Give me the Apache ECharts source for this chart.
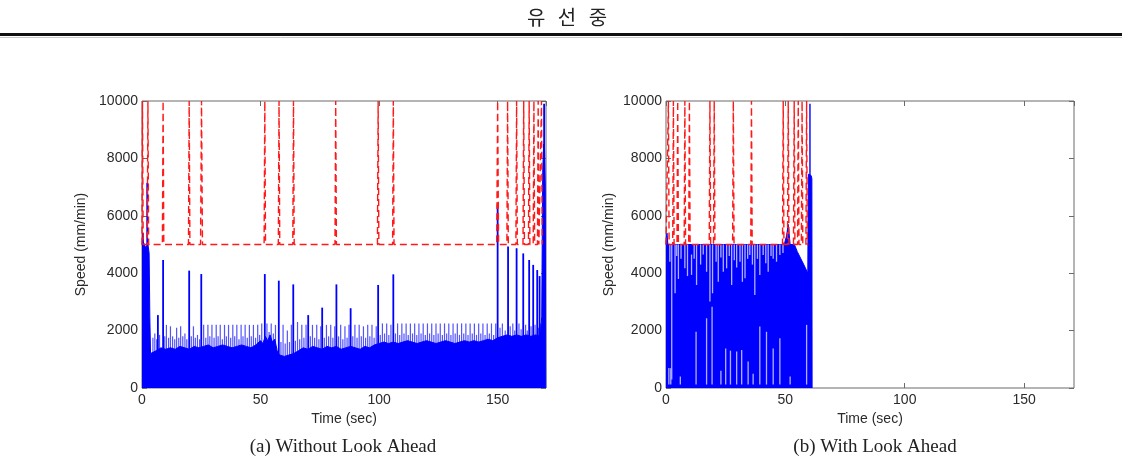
<!DOCTYPE html>
<html><head><meta charset="utf-8">
<script src="https://cdn.jsdelivr.net/npm/echarts@6/dist/echarts.min.js"></script>
<style>html,body{margin:0;padding:0;background:#fff}#c{width:1122px;height:469px}</style>
</head><body><div id="c"></div>
<script>
// ---------- DATA ----------
const pageTitle = '유 선 중';
const captionA = '(a) Without Look Ahead';
const captionB = '(b) With Look Ahead';
const xName = 'Time (sec)';
const yName = 'Speed (mm/min)';

// (a) solid speed envelope [time, speed]
const baseA = [[0,5000],[0.5,5100],[1.5,4900],[2.5,5000],[3.0,4700],[3.3,2500],[3.6,1200],[4,1250],[6,1300],[8,1400],[10,1350],[12,1400],[14,1350],[16,1450],[18,1400],[20,1350],[22,1450],[24,1400],[26,1450],[28,1500],[30,1400],[32,1450],[34,1500],[36,1450],[38,1400],[40,1450],[42,1500],[44,1450],[46,1400],[48,1500],[50,1650],[51,1550],[52,1800],[53,1650],[54,1850],[55,1600],[56,1700],[57,1300],[58,1150],[60,1100],[62,1150],[64,1200],[66,1300],[68,1400],[70,1350],[72,1450],[74,1400],[76,1350],[78,1450],[80,1400],[82,1450],[84,1350],[86,1400],[88,1450],[90,1400],[92,1350],[94,1450],[96,1400],[98,1500],[100,1550],[102,1600],[104,1550],[106,1600],[108,1550],[110,1600],[112,1650],[114,1600],[116,1550],[118,1600],[120,1650],[122,1600],[124,1550],[126,1600],[128,1650],[130,1600],[132,1550],[134,1600],[136,1650],[138,1600],[140,1650],[142,1600],[144,1650],[146,1700],[148,1650],[150,1750],[152,1800],[154,1850],[156,1800],[158,1850],[160,1800],[162,1850],[164,1800],[166,1850],[168,1800],[168.6,2500],[169,7500],[169.4,8500],[169.8,8300],[170.1,7000],[170.3,0]];
// (a) tall speed spikes [time, speed]
const spikeA = [[0.4,5400],[2.2,7150],[6.7,2540],[8.9,4460],[19.9,4090],[25.0,3970],[51.8,3970],[57.7,3740],[63.8,3610],[70.1,2540],[76.0,2800],[82.0,3610],[88.0,2780],[99.6,3590],[106.0,3960],[150.0,6380],[154.4,4930],[158.0,4870],[160.8,4690],[163.3,4460],[165.0,4290],[166.7,4110],[167.7,3900],[169.6,9900]];
// (a) small oscillation peaks [time, speed]
const combA = [[4.6,1750],[5.4,1900],[6.2,1700],[7.4,1850],[9.6,1800],[10.3,2200],[11.2,1750],[12.0,2150],[12.9,1800],[13.8,1700],[14.6,2100],[15.5,1750],[16.3,2150],[17.2,1800],[18.1,1900],[18.9,1700],[20.8,1800],[21.7,2150],[22.5,1750],[23.4,1850],[24.3,1700],[26.0,2200],[26.9,1750],[27.8,2200],[28.6,1800],[29.5,2200],[30.4,1750],[31.3,2200],[32.1,1800],[33.0,2200],[33.9,1700],[34.8,2200],[35.6,1800],[36.5,2200],[37.4,1750],[38.3,2200],[39.1,1800],[40.0,2200],[40.9,1700],[41.8,2200],[42.6,1800],[43.5,2200],[44.4,1750],[45.3,2200],[46.1,1800],[47.0,2200],[47.9,1750],[48.8,2200],[49.6,1850],[50.5,2250],[52.7,2250],[53.6,1950],[54.5,2250],[55.4,1900],[56.3,2200],[58.6,1600],[59.5,2200],[60.4,1550],[61.3,2000],[62.2,1600],[63.0,2200],[64.7,1650],[65.6,2300],[66.5,1700],[67.4,2200],[68.3,1750],[69.2,2200],[71.0,1800],[71.9,2200],[72.8,1750],[73.7,2200],[74.6,1700],[75.4,2150],[76.9,1750],[77.8,2200],[78.7,1800],[79.6,2200],[80.5,1750],[81.3,2150],[82.9,1800],[83.8,2200],[84.7,1700],[85.6,2150],[86.5,1750],[87.3,2200],[88.9,1800],[89.8,2200],[90.7,1750],[91.6,2200],[92.5,1800],[93.4,2150],[94.3,1750],[95.2,2200],[96.1,1800],[97.0,2200],[97.9,1750],[98.8,2150],[100.5,1850],[101.4,2250],[102.3,1900],[103.2,2250],[104.1,1850],[105.0,2200],[106.9,1900],[107.8,2250],[108.7,1850],[109.6,2250],[110.5,1900],[111.4,2250],[112.3,1850],[113.2,2250],[114.1,1900],[115.0,2250],[115.9,1850],[116.8,2250],[117.7,1900],[118.6,2250],[119.5,1850],[120.4,2250],[121.3,1900],[122.2,2250],[123.1,1850],[124.0,2250],[124.9,1900],[125.8,2250],[126.7,1850],[127.6,2250],[128.5,1900],[129.4,2250],[130.3,1850],[131.2,2250],[132.1,1900],[133.0,2250],[133.9,1850],[134.8,2250],[135.7,1900],[136.6,2250],[137.5,1850],[138.4,2250],[139.3,1900],[140.2,2250],[141.1,1850],[142.0,2250],[142.9,1900],[143.8,2250],[144.7,1850],[145.6,2250],[146.5,1900],[147.4,2250],[148.3,1850],[149.2,2250],[151.0,2100],[152.0,2250],[153.2,2000],[155.3,2150],[156.4,2250],[157.2,2000],[159.0,2250],[159.9,2050],[161.8,2200],[162.5,2000],[164.1,2150],[165.8,2200],[167.2,2100],[168.1,2250]];
// (a) commanded feed (red dashed) [time, speed]
const cmdA = [[0,5000],[0.2,10000],[0.5,5000],[2.2,5000],[2.5,10000],[2.8,5000],[8.6,5000],[8.9,10000],[9.2,5000],[19.6,5000],[19.9,10000],[20.2,5000],[24.7,5000],[25.1,10000],[25.5,5000],[51.5,5000],[51.8,10000],[52.1,5000],[57.5,5000],[57.8,10000],[58.1,5000],[63.6,5000],[63.9,10000],[64.2,5000],[81.4,5000],[81.7,10000],[82.0,5000],[99.3,5000],[99.6,10000],[99.9,5000],[105.7,5000],[106.0,10000],[106.3,5000],[149.6,5000],[150.0,10000],[150.4,5000],[153.9,5000],[154.2,10000],[154.5,5000],[157.7,5000],[158.0,10000],[158.3,5000],[160.7,5000],[161.0,10000],[161.3,5000],[163.0,5000],[163.3,10000],[163.6,5000],[165.0,5000],[165.3,10000],[165.6,5000],[166.8,5000],[167.1,10000],[167.4,5000],[168.2,5000],[168.5,10000],[168.8,5000]];

// (b) solid speed envelope [time, speed]
const baseB = [[0,5000],[0.4,5400],[0.8,5000],[49.5,5000],[50.5,5300],[51.2,5700],[52.0,5000],[53.8,5000],[55.0,4750],[56.5,4500],[58.0,4250],[59.4,4000],[59.6,7450],[60.2,7500],[60.8,7400],[61.1,7300],[61.2,0]];
// (b) tall speed spike [time, speed]
const spikeB = [[60.3,9900]];
// (b) gaps below the 5000 ceiling [time, low, high]
const gapTopB = [[1.6,4400,5000],[2.4,300,5000],[3.8,3300,5000],[4.5,4600,5000],[5.2,3800,5000],[6.3,4500,5000],[7.9,4170,5000],[9.0,3900,5000],[10.7,3940,4650],[11.8,4500,5000],[12.8,3590,5000],[14.5,4300,5000],[15.6,4650,5000],[17.0,4050,5000],[18.4,3010,5000],[19.5,3300,5000],[21.0,4400,5000],[21.9,3700,5000],[23.0,4550,5000],[24.0,4050,5000],[25.4,4170,5000],[26.5,4600,5000],[27.5,3590,5000],[28.6,4450,5000],[29.6,4200,5000],[31.0,4400,5000],[32.0,3700,5000],[33.1,3820,5000],[34.2,4500,5000],[35.1,4630,5000],[36.2,4300,5000],[37.2,3240,5000],[38.3,4500,5000],[39.3,3940,5000],[40.7,4630,5000],[41.8,4350,5000],[42.8,4050,5000],[44.0,4600,5000],[44.9,4500,5000],[46.3,4400,5000],[47.7,4630,5000],[49.0,4700,5000]];
// (b) gaps above the floor [time, low, high]
const gapLowB = [[1.2,120,700],[2.0,120,690],[6.0,120,400],[12.6,120,1960],[17.0,120,2430],[19.3,120,2830],[23.0,120,600],[25.0,120,1380],[27.0,120,1300],[29.6,120,1270],[31.7,120,1320],[34.4,120,920],[36.5,120,500],[39.3,120,2140],[42.1,120,1960],[44.9,120,1380],[47.7,120,1730],[52.0,120,400],[58.9,120,2200]];
// (b) commanded feed (red dashed) [time, speed]
const cmdB = [[0,5000],[0.7,5000],[1.0,10000],[1.3,5000],[2.8,5000],[3.1,10000],[3.4,5000],[4.6,5000],[4.9,10000],[5.2,5000],[7.6,5000],[7.9,10000],[8.2,5000],[9.5,5000],[9.8,10000],[10.1,5000],[18.1,5000],[18.4,10000],[18.7,5000],[19.9,5000],[20.2,10000],[20.5,5000],[27.9,5000],[28.2,10000],[28.5,5000],[35.5,5000],[35.8,10000],[36.1,5000],[48.8,5000],[49.1,10000],[49.4,5000],[50.9,5000],[51.2,10000],[51.5,5000],[53.4,5000],[53.7,10000],[54.0,5000],[55.1,5000],[55.4,10000],[55.7,5000],[56.7,5000],[57.0,10000],[57.3,5000],[58.6,5000],[58.9,10000],[59.2,5000],[59.6,5000]];

// ---------- CHART ----------
const F = '"Liberation Sans", Arial, sans-serif';
const TXT = '#2a2a2a';
const AX = '#6a6a6a';
const BLUE = '#0000ff';
const RED = '#ff1a1a';

function xAx(gi, max, pos, show) {
  return {type:'value', gridIndex:gi, min:0, max:max, interval:50, position:pos,
    name: show ? xName : '', nameLocation:'middle', nameGap:18,
    nameTextStyle:{fontFamily:F, fontSize:14, color:TXT},
    axisLine:{show:false, onZero:false}, splitLine:{show:false},
    axisTick:{show:true, inside:true, length:5, lineStyle:{color:AX}},
    axisLabel:{show:show, fontFamily:F, fontSize:14, color:TXT, margin:5, showMaxLabel:false}};
}
function yAx(gi, pos, show, gap) {
  return {type:'value', gridIndex:gi, min:0, max:10000, interval:2000, position:pos,
    name: show ? yName : '', nameLocation:'middle', nameGap:gap, nameRotate:90,
    nameTextStyle:{fontFamily:F, fontSize:14, color:TXT},
    axisLine:{show:false, onZero:false}, splitLine:{show:false},
    axisTick:{show:true, inside:true, length:5, lineStyle:{color:AX}},
    axisLabel:{show:show, fontFamily:F, fontSize:14, color:TXT, margin:4, formatter:v => String(v)}};
}
function vline(color, width) {
  return function (params, api) {
    const a = api.coord([api.value(0), api.value(1)]);
    const b = api.coord([api.value(0), api.value(2)]);
    return {type:'line', shape:{x1:a[0], y1:a[1], x2:b[0], y2:b[1]},
      style:{stroke:color, lineWidth:width}};
  };
}
function segSeries(data, xi, color, width, z) {
  return {type:'custom', xAxisIndex:xi, yAxisIndex:xi, renderItem:vline(color, width),
    encode:{x:0, y:[1,2]}, data:data, silent:true, clip:true, z:z};
}
function areaSeries(data, xi) {
  return {type:'line', xAxisIndex:xi, yAxisIndex:xi, data:data, symbol:'none', silent:true,
    lineStyle:{color:BLUE, width:1}, areaStyle:{color:BLUE, opacity:1}, clip:true, z:2};
}
function redSeries(data, xi) {
  return {type:'line', xAxisIndex:xi, yAxisIndex:xi, data:data, symbol:'none', silent:true,
    lineStyle:{color:RED, width:1.4, type:[7,4]}, clip:true, z:6};
}

const titleRich = pageTitle.split(' ').map(ch => '{c|' + ch + '}').join(' ');

const chart = echarts.init(document.getElementById('c'), null, {renderer:'canvas'});
chart.setOption({
  animation:false,
  backgroundColor:'#fff',
  grid:[
    {left:142, top:101, width:404, height:287, show:true, borderColor:AX, borderWidth:1, backgroundColor:'#fff'},
    {left:666, top:101, width:408, height:287, show:true, borderColor:AX, borderWidth:1, backgroundColor:'#fff'}
  ],
  xAxis:[xAx(0,170.4,'bottom',true), xAx(1,170.9,'bottom',true), xAx(0,170.4,'top',false), xAx(1,170.9,'top',false)],
  yAxis:[yAx(0,'left',true,54), yAx(1,'left',true,50), yAx(0,'right',false,0), yAx(1,'right',false,0)],
  series:[
    segSeries(combA.map(p => [p[0], 0, p[1]]), 0, 'rgba(40,40,255,0.8)', 1.2, 1),
    areaSeries(baseA, 0),
    segSeries(spikeA.map(p => [p[0], 0, p[1]]), 0, BLUE, 1.8, 4),
    redSeries(cmdA, 0),
    areaSeries(baseB, 1),
    segSeries(gapTopB, 1, 'rgba(185,185,255,0.95)', 1.3, 4),
    segSeries(gapLowB, 1, 'rgba(185,185,255,0.95)', 1.3, 4),
    segSeries(spikeB.map(p => [p[0], 0, p[1]]), 1, BLUE, 1.4, 4),
    redSeries(cmdB, 1)
  ],
  graphic:[
    {type:'text', x:567, y:17, style:{text:titleRich, font:'20px "Noto Sans CJK KR"', fill:'#222', textAlign:'center', textVerticalAlign:'middle',
      rich:{c:{font:'20px "Noto Sans CJK KR"', fill:'#222', padding:[0,4]}}}},
    {type:'line', shape:{x1:0, y1:34.5, x2:1122, y2:34.5}, style:{stroke:'#111', lineWidth:3}},
    {type:'line', shape:{x1:0, y1:37.5, x2:1122, y2:37.5}, style:{stroke:'#c8c8c8', lineWidth:1}},
    {type:'text', x:343, y:447, style:{text:captionA, font:'19px "Liberation Serif"', fill:'#222', textAlign:'center', textVerticalAlign:'middle'}},
    {type:'text', x:875, y:447, style:{text:captionB, font:'19px "Liberation Serif"', fill:'#222', textAlign:'center', textVerticalAlign:'middle'}}
  ]
});
</script></body></html>
